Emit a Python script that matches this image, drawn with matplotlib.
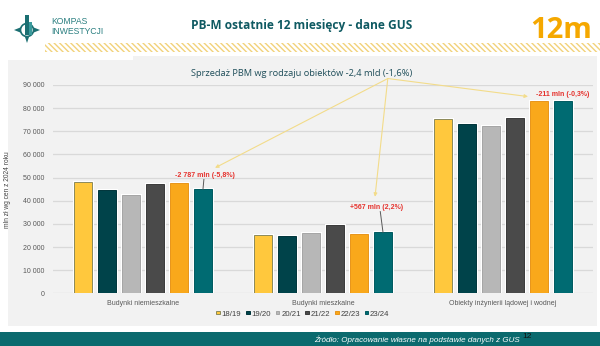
import matplotlib
matplotlib.use("Agg")
import matplotlib.pyplot as plt
from matplotlib.patches import Rectangle, Polygon, Circle
import numpy as np

# ---------------- data ----------------
categories = ["Budynki niemieszkalne", "Budynki mieszkalne", "Obiekty inżynierii lądowej i wodnej"]
seasons = ["18/19", "19/20", "20/21", "21/22", "22/23", "23/24"]
v_1819 = [48000, 25200, 75400]
v_1920 = [44500, 24800, 73100]
v_2021 = [42600, 26000, 72100]
v_2122 = [47200, 29400, 75600]
v_2223 = [47800, 25800, 83100]
v_2324 = [45000, 26400, 82900]
series = [v_1819, v_1920, v_2021, v_2122, v_2223, v_2324]
colors = ["#FFC83D", "#00434A", "#B7B7B7", "#4A4A4A", "#F9A81B", "#006B72"]
edge_dark = ["#8C8A5A", "#00343A", "#A5A5A5", "#3A3A3A", "#E8951A", "#005A60"]
change_labels = ["-2 787 mln (-5,8%)", "+567 mln (2,2%)", "-211 mln (-0,3%)"]
yticks = [0, 10000, 20000, 30000, 40000, 50000, 60000, 70000, 80000, 90000]

title = "PB-M ostatnie 12 miesięcy - dane GUS"
subtitle = "Sprzedaż PBM wg rodzaju obiektów -2,4 mld (-1,6%)"
ylabel = "mln zł wg cen z 2024 roku"
source = "Źródło: Opracowanie własne na podstawie danych z GUS"

plt.rcParams['font.family'] = ['Liberation Sans', 'DejaVu Sans']
plt.rcParams['hatch.linewidth'] = 1.0

W, H = 600, 346
fig = plt.figure(figsize=(6, 3.46), dpi=100)
fig.patch.set_facecolor("white")

# ---------------- background / decoration (pixel coords) ----------------
bg = fig.add_axes([0, 0, 1, 1], zorder=0)
bg.set_xlim(0, W)
bg.set_ylim(H, 0)
bg.axis("off")

# chart panel
bg.add_patch(Rectangle((8, 60), 589, 266, facecolor="#F2F2F2", edgecolor="none"))
bg.add_patch(Rectangle((133, 56), 464, 8, facecolor="#F2F2F2", edgecolor="none"))
# yellow hatched stripe
bg.add_patch(Rectangle((45, 43), 560, 9, facecolor="none", edgecolor="#F2D27A",
                       hatch="\\\\\\\\\\\\", linewidth=0))
# footer band
bg.add_patch(Rectangle((0, 332), W, 14, facecolor="#0B6A6E", edgecolor="none"))
bg.text(417, 340, source, color="white", fontsize=5.8, style="italic",
        ha="center", va="center")
bg.text(527, 336, "12", color="#111111", fontsize=6, ha="center", va="center")

# title
bg.text(302, 26, title, color="#0F5A62", fontsize=8.6, fontweight="bold",
        family=["Open Sans", "DejaVu Sans"], ha="center", va="center")
bg.text(561, 30, "12m", color="#F5A800", fontsize=21, fontweight="bold",
        family=["Open Sans", "DejaVu Sans"], ha="center", va="center")

# logo
teal = "#1B6F72"
bg.add_patch(Polygon([(14, 30), (24, 26), (27, 16), (30, 26), (40, 30), (30, 34),
                      (27, 43), (24, 34)], closed=True, facecolor=teal, edgecolor="none"))
bg.add_patch(Circle((27, 30), 6.5, facecolor="white", edgecolor=teal, linewidth=1.2))
bg.add_patch(Rectangle((25, 15), 3.5, 20, facecolor=teal, edgecolor="none"))
bg.add_patch(Rectangle((29, 22), 2.5, 13, facecolor="#3A9A9C", edgecolor="none"))
bg.text(51, 22, "KOMPAS", color="#2A7F80", fontsize=6.2, ha="left", va="center")
bg.text(51, 32, "INWESTYCJI", color="#2A7F80", fontsize=6.2, ha="left", va="center")

# subtitle
bg.text(302, 73, subtitle, color="#1F4E5A", fontsize=6.7,
        family=["Open Sans", "DejaVu Sans"], ha="center", va="center")

# ---------------- main chart ----------------
ax = fig.add_axes([53 / W, 1 - 293.3 / H, 540 / W, (293.3 - 85) / H], zorder=1)
ax.set_facecolor("none")
x = np.arange(len(categories))
pitch = 0.1333
bw = 0.105
for i, (vals, c, ec) in enumerate(zip(series, colors, edge_dark)):
    pos = x + (i - 2.5) * pitch
    ax.bar(pos, vals, width=bw, color=c, edgecolor="white", linewidth=2.2, zorder=3)
    ax.bar(pos, vals, width=bw, color=c, edgecolor=ec, linewidth=0.7, zorder=3,
           label=seasons[i])

ax.set_xlim(-0.5, 2.5)
ax.set_ylim(0, 90000)
ax.set_yticks(yticks)
ax.set_yticklabels([f"{v:,}".replace(",", " ") for v in yticks])
ax.yaxis.grid(True, color="#D9D9D9", linewidth=0.9, zorder=0)
ax.set_axisbelow(True)
for s in ax.spines.values():
    s.set_visible(False)
ax.tick_params(axis="both", length=0, labelsize=5, labelcolor="#595959")
ax.tick_params(axis="y", pad=6)
ax.tick_params(axis="x", pad=4.5)
ax.set_xticks(x)
ax.set_xticklabels(categories)
ax.set_ylabel(ylabel, fontsize=4.8, color="#404040", labelpad=9)

# change labels, leader lines and arrows
last = series[-1]
red = "#E5322D"
label_pos = [(x[0] + 0.345, last[0] + 5900), (x[1] + 0.295, last[1] + 10600),
             (x[2] + 0.33, last[2] + 3100)]
for i in range(3):
    lx, ly = label_pos[i]
    ax.text(lx, ly, change_labels[i], color=red, fontsize=5, fontweight="bold",
            ha="center", va="center", zorder=5)
bar6 = x + 2.5 * pitch
ax.plot([bar6[0] + 0.005, bar6[0]], [last[0] + 4200, last[0]], color="#595959",
        lw=0.7, zorder=4)
ax.plot([bar6[1] - 0.015, bar6[1]], [last[1] + 8900, last[1]], color="#595959",
        lw=0.7, zorder=4)

src = (1.36, 92800)
targets = [(0.40, 54200), (1.289, 41700), (2.139, 85000)]
for t in targets:
    ax.annotate("", xy=t, xytext=src, xycoords="data", textcoords="data",
                annotation_clip=False,
                arrowprops=dict(arrowstyle="-|>", color="#F3DC8A", lw=0.8,
                                mutation_scale=5, shrinkA=0, shrinkB=0), zorder=6)

# legend
leg = fig.legend(*ax.get_legend_handles_labels(), loc="center",
                 bbox_to_anchor=(303 / W, 1 - 314 / H), ncol=6, frameon=False,
                 fontsize=5.6, handlelength=0.45, handleheight=0.3,
                 handletextpad=0.25, columnspacing=0.6, borderpad=0)
for t in leg.get_texts():
    t.set_color("#404040")

fig.savefig("out.png", dpi=100, facecolor="white")
